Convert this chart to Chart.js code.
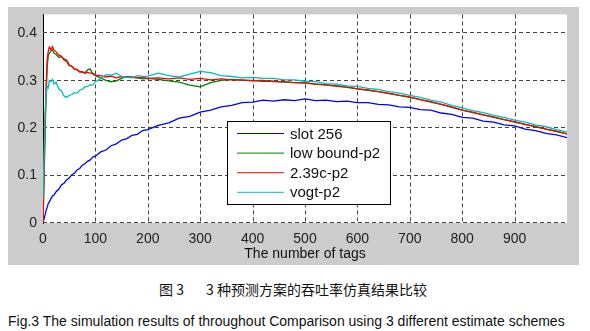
<!DOCTYPE html>
<html>
<head>
<meta charset="utf-8">
<script src="https://cdn.jsdelivr.net/npm/chart.js@4.4.1/dist/chart.umd.min.js"></script>
<style>
  body { margin: 0; background: #fff; width: 590px; height: 331px; position: relative; overflow: hidden; }
  #wrap { position: absolute; left: 0; top: 0; width: 590px; height: 270px; }
  .cap { position: absolute; white-space: pre; color: #111; font-size: 14px; line-height: 16px; }
  .zh { font-family: "Noto Sans CJK SC", sans-serif; }
  .en { font-family: "Liberation Sans", Arial, sans-serif; }
</style>
</head>
<body>
<div id="wrap"><canvas id="tputChart" width="590" height="270"></canvas></div>
<div class="cap zh" style="left:159px; top:281px;">图 3</div>
<div class="cap zh" style="left:206px; top:281px;">3 种预测方案的吞吐率仿真结果比较</div>
<div class="cap en" style="left:8px; top:313px;">Fig.3 The simulation results of throughout Comparison using 3 different estimate schemes</div>

<script>
// number of tags (x)
const tags = [0, 2, 4, 6, 8, 10, 12, 15, 18, 21, 25, 30, 35, 40, 45, 50, 55, 60, 65, 70, 75, 80, 85, 90, 95, 100,
  110, 120, 130, 140, 150, 160, 170, 180, 190, 200,
  220, 240, 260, 280, 300, 320, 340, 360, 380, 400, 420, 440, 460, 480, 500,
  520, 540, 560, 580, 600, 620, 640, 660, 680, 700, 720, 740, 760, 780, 800,
  820, 840, 860, 880, 900, 920, 940, 960, 980, 1000];

// throughput of each scheme
const slot256 = [0, 0.009, 0.017, 0.027, 0.033, 0.041, 0.044, 0.051, 0.057, 0.059, 0.066, 0.071, 0.080, 0.084, 0.091, 0.095, 0.102, 0.105, 0.112, 0.115, 0.122, 0.125, 0.130, 0.133, 0.139, 0.141,
  0.150, 0.154, 0.163, 0.167, 0.175, 0.178, 0.185, 0.187, 0.195, 0.197,
  0.206, 0.211, 0.221, 0.225, 0.234, 0.238, 0.245, 0.248, 0.254, 0.255, 0.259, 0.257, 0.260, 0.258, 0.262,
  0.258, 0.259, 0.256, 0.257, 0.254, 0.254, 0.250, 0.249, 0.245, 0.244, 0.239, 0.238, 0.232, 0.229, 0.223,
  0.221, 0.215, 0.213, 0.207, 0.205, 0.198, 0.195, 0.189, 0.186, 0.180];

const lowBound = [0, 0.09, 0.19, 0.27, 0.33, 0.352, 0.358, 0.363, 0.366, 0.358, 0.356, 0.349, 0.351, 0.346, 0.344, 0.334, 0.330, 0.324, 0.323, 0.319, 0.318, 0.317, 0.323, 0.325, 0.314, 0.311,
  0.306, 0.301, 0.298, 0.300, 0.305, 0.309, 0.307, 0.306, 0.304, 0.305,
  0.303, 0.300, 0.297, 0.291, 0.287, 0.296, 0.301, 0.303, 0.301, 0.301, 0.299, 0.299, 0.297, 0.296, 0.295,
  0.293, 0.291, 0.289, 0.286, 0.283, 0.280, 0.277, 0.273, 0.269, 0.265, 0.260, 0.255, 0.250, 0.244, 0.238,
  0.233, 0.228, 0.223, 0.218, 0.213, 0.208, 0.203, 0.198, 0.193, 0.188];

const c239 = [0, 0.10, 0.21, 0.29, 0.345, 0.362, 0.371, 0.366, 0.372, 0.365, 0.361, 0.354, 0.352, 0.344, 0.341, 0.332, 0.331, 0.325, 0.324, 0.319, 0.319, 0.316, 0.318, 0.316, 0.316, 0.312,
  0.311, 0.308, 0.310, 0.306, 0.309, 0.307, 0.308, 0.306, 0.307, 0.305,
  0.306, 0.304, 0.306, 0.303, 0.305, 0.302, 0.304, 0.302, 0.302, 0.300, 0.301, 0.298, 0.298, 0.296, 0.296,
  0.293, 0.292, 0.289, 0.287, 0.283, 0.281, 0.277, 0.274, 0.269, 0.266, 0.260, 0.256, 0.250, 0.245, 0.238,
  0.234, 0.228, 0.224, 0.218, 0.214, 0.208, 0.204, 0.198, 0.194, 0.188];

const vogt = [0.05, 0.14, 0.23, 0.27, 0.288, 0.285, 0.301, 0.298, 0.303, 0.293, 0.297, 0.283, 0.279, 0.268, 0.265, 0.269, 0.271, 0.275, 0.274, 0.280, 0.282, 0.287, 0.288, 0.292, 0.291, 0.298,
  0.304, 0.313, 0.312, 0.316, 0.309, 0.307, 0.306, 0.311, 0.309, 0.310,
  0.316, 0.311, 0.308, 0.314, 0.320, 0.317, 0.311, 0.309, 0.306, 0.307, 0.305, 0.305, 0.302, 0.302, 0.299,
  0.298, 0.294, 0.293, 0.289, 0.288, 0.284, 0.282, 0.277, 0.274, 0.269, 0.265, 0.259, 0.255, 0.248, 0.243,
  0.237, 0.233, 0.227, 0.223, 0.217, 0.213, 0.207, 0.203, 0.197, 0.192];

const seriesLabels = ['slot 256', 'low bound-p2', '2.39c-p2', 'vogt-p2'];
const seriesValues = [slot256, lowBound, c239, vogt];
const seriesColors = ['#0000ff', '#008000', '#ff0000', '#00bfbf'];

function points(values) {
  return tags.map((t, i) => ({ x: t, y: values[i] }));
}

// gray figure panel with a white axes area
const panelBg = {
  id: 'panelBg',
  beforeDraw(chart) {
    const { ctx, chartArea: a } = chart;
    ctx.save();
    ctx.fillStyle = '#cccccc';
    ctx.fillRect(8, 7, 571, 258);
    ctx.fillStyle = '#ffffff';
    ctx.fillRect(a.left, a.top, a.right - a.left, a.bottom - a.top);
    ctx.restore();
  }
};

// matlab-style dashed grid at every tick, under the curves
const dashedGrid = {
  id: 'dashedGrid',
  beforeDatasetsDraw(chart) {
    const { ctx, chartArea: a, scales: { x, y } } = chart;
    const on = 4, period = 7;
    ctx.save();
    ctx.fillStyle = '#444444';
    x.ticks.forEach(t => {
      if (t.value <= 0) return;
      const px = Math.round(x.getPixelForValue(t.value));
      for (let p = a.top; p < a.bottom; p += period) {
        ctx.fillRect(px, p, 1, Math.min(on, a.bottom - p));
      }
    });
    y.ticks.forEach(t => {
      const py = Math.round(y.getPixelForValue(t.value)) - 1;
      for (let p = a.left; p < a.right; p += period) {
        ctx.fillRect(p, py, Math.min(on, a.right - p), 1);
      }
    });
    ctx.restore();
  }
};

// boxed legend inside the axes
const boxLegend = {
  id: 'boxLegend',
  afterDatasetsDraw(chart) {
    const ctx = chart.ctx;
    const x = 227, y = 121, w = 163, h = 83;
    ctx.save();
    ctx.fillStyle = '#ffffff';
    ctx.fillRect(x, y, w, h);
    ctx.strokeStyle = '#000';
    ctx.lineWidth = 1;
    ctx.strokeRect(x + 0.5, y + 0.5, w, h);
    ctx.font = '15px "Liberation Sans", Arial, sans-serif';
    ctx.textBaseline = 'middle';
    chart.data.datasets.forEach((ds, i) => {
      const ry = y + 12.5 + i * 19.6;
      ctx.strokeStyle = ds.borderColor;
      ctx.lineWidth = 1;
      ctx.beginPath();
      ctx.moveTo(x + 10, ry);
      ctx.lineTo(x + 57, ry);
      ctx.stroke();
      ctx.fillStyle = '#111';
      ctx.fillText(ds.label, x + 63, ry + 1);
    });
    ctx.restore();
  }
};

Chart.defaults.font.family = '"Liberation Sans", Arial, sans-serif';

new Chart(document.getElementById('tputChart'), {
  type: 'line',
  data: {
    datasets: seriesLabels.map((label, i) => ({
      label: label,
      data: points(seriesValues[i]),
      borderColor: seriesColors[i],
      borderWidth: 1.3,
      pointRadius: 0,
      tension: 0,
      fill: false,
      order: 3 - i
    }))
  },
  options: {
    responsive: false,
    animation: false,
    devicePixelRatio: 1,
    layout: { padding: { left: 0, right: 23, top: 7, bottom: 0 } },
    plugins: {
      legend: { display: false },
      tooltip: { enabled: false }
    },
    scales: {
      x: {
        type: 'linear',
        min: 0,
        max: 1000,
        ticks: { stepSize: 100, color: '#222', font: { size: 14 }, padding: 8, maxRotation: 0 },
        afterBuildTicks: s => { s.ticks = s.ticks.filter(t => t.value <= 900); },
        afterFit: s => { s.height = 47; },
        grid: { display: false, drawTicks: false },
        border: { display: false },
        title: { display: true, text: 'The number of tags', color: '#111', font: { size: 14 }, padding: { top: 0, bottom: 7 } }
      },
      y: {
        min: 0,
        max: 0.44,
        ticks: {
          stepSize: 0.1, color: '#222', font: { size: 14 }, padding: 6,
          callback: v => (Math.round(v * 10) / 10).toString()
        },
        afterBuildTicks: s => { s.ticks = s.ticks.filter(t => t.value <= 0.4001); },
        afterFit: s => { s.width = 43; },
        grid: { display: false, drawTicks: false },
        border: { display: true, color: '#000', width: 1 }
      }
    }
  },
  plugins: [panelBg, dashedGrid, boxLegend]
});
</script>
</body>
</html>
